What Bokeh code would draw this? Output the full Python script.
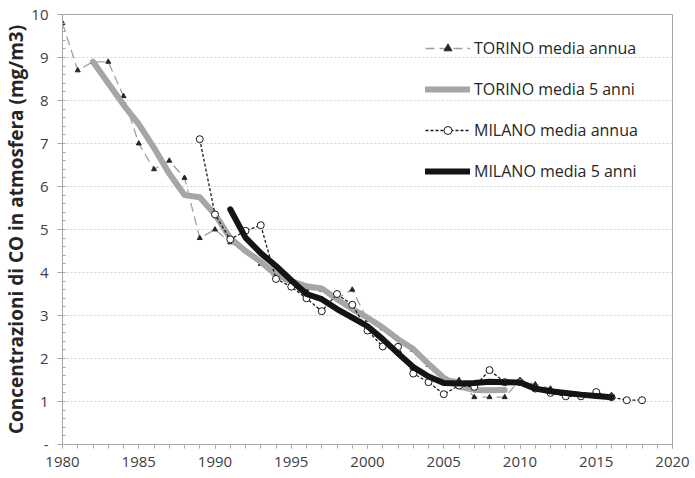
from bokeh.plotting import figure
from bokeh.models import FixedTicker, Legend, LegendItem, Range1d, Title
from bokeh.embed import file_html
from bokeh.resources import INLINE

# ---- data ----
torino_years = list(range(1980, 2017))
torino_annua = [9.8, 8.7, 8.9, 8.9, 8.1, 7.0, 6.4, 6.6, 6.2, 4.8,
                5.0, 4.7, 4.5, 4.2, 3.85, 3.75, 3.6, 3.6, 3.4, 3.6,
                2.9, 2.7, 2.45, 2.2, 1.85, 1.55, 1.5, 1.1, 1.1, 1.1,
                1.5, 1.4, 1.3, 1.2, 1.15, 1.15, 1.15]

torino5_years = list(range(1982, 2010))
torino_5anni = [8.9, 8.4, 7.9, 7.45, 6.9, 6.3, 5.8, 5.75, 5.35, 4.8,
                4.5, 4.25, 3.95, 3.8, 3.68, 3.63, 3.38, 3.15, 2.95, 2.72,
                2.45, 2.22, 1.87, 1.55, 1.35, 1.27, 1.26, 1.27]

milano_years = list(range(1989, 2019))
milano_annua = [7.1, 5.35, 4.77, 4.97, 5.1, 3.85, 3.67, 3.4, 3.1, 3.5,
                3.25, 2.65, 2.28, 2.27, 1.65, 1.45, 1.17, 1.37, 1.34, 1.73,
                1.45, 1.45, 1.3, 1.2, 1.12, 1.12, 1.22, 1.1, 1.03, 1.03]

milano5_years = list(range(1991, 2017))
milano_5anni = [5.47, 4.81, 4.45, 4.15, 3.82, 3.5, 3.38, 3.15, 2.95, 2.75,
                2.45, 2.12, 1.8, 1.58, 1.43, 1.42, 1.43, 1.46, 1.45, 1.44,
                1.3, 1.24, 1.2, 1.16, 1.13, 1.1]

x_major = [1980, 1985, 1990, 1995, 2000, 2005, 2010, 2015, 2020]
y_major = list(range(0, 11))
y_labels = {0: "-"}

y_title = "Concentrazioni di CO in atmosfera (mg/m3)"
labels = ["TORINO media annua", "TORINO media 5 anni",
          "MILANO media annua", "MILANO media 5 anni"]

FONT = "Open Sans"
AXIS_C = "#a6a6a6"
TEXT_C = "#404040"

p = figure(width=695, height=478, output_backend="svg", toolbar_location=None,
           x_range=Range1d(1980, 2020), y_range=Range1d(0, 10),
           min_border_left=62, min_border_right=23, min_border_top=14,
           min_border_bottom=34)

p.background_fill_color = "white"
p.border_fill_color = "white"
p.outline_line_color = AXIS_C
p.outline_line_width = 1

# axes
p.xaxis.ticker = FixedTicker(ticks=x_major, minor_ticks=list(range(1980, 2021)))
p.yaxis.ticker = FixedTicker(ticks=y_major,
                             minor_ticks=[round(i * 0.2, 1) for i in range(0, 51)])
p.yaxis.major_label_overrides = y_labels

for ax in (p.xaxis[0], p.yaxis[0]):
    ax.axis_line_color = AXIS_C
    ax.major_tick_line_color = AXIS_C
    ax.minor_tick_line_color = AXIS_C
    ax.major_label_text_font = FONT
    ax.major_label_text_font_size = "15px"
    ax.major_label_text_color = TEXT_C

p.xaxis.major_tick_out = 4
p.xaxis.major_tick_in = 0
p.xaxis.minor_tick_out = 4
p.xaxis.minor_tick_in = 0
p.xaxis.major_label_standoff = 8

p.yaxis.major_tick_out = 5
p.yaxis.major_tick_in = 0
p.yaxis.minor_tick_out = 0
p.yaxis.minor_tick_in = 3
p.yaxis.major_label_standoff = 9

p.xgrid.grid_line_color = None
p.ygrid.ticker = FixedTicker(ticks=y_major)
p.ygrid.grid_line_color = "#d0d0d0"
p.ygrid.grid_line_dash = "2 2"
p.ygrid.grid_line_width = 1

# y axis title as a left-side title panel
ytitle = Title(text=y_title, align="center", offset=-8,
               text_font=FONT, text_font_size="19px", text_font_style="bold",
               text_color="#262626", standoff=0)
p.add_layout(ytitle, "left")

# series
t_line = p.line(torino_years, torino_annua, line_color="#a0a0a0", line_width=1.3,
                line_dash="9 5")
t_pts = p.scatter(torino_years, torino_annua, marker="triangle", size=5,
                  fill_color="#262626", line_color="#262626")
t5 = p.line(torino5_years, torino_5anni, line_color="#a6a6a6", line_width=6,
            line_join="round", line_cap="round")
m_line = p.line(milano_years, milano_annua, line_color="#1a1a1a", line_width=1.3,
                line_dash="3 2")
m_pts = p.scatter(milano_years, milano_annua, marker="circle", size=7,
                  fill_color="white", line_color="#1a1a1a", line_width=1)
m5 = p.line(milano5_years, milano_5anni, line_color="#141414", line_width=6,
            line_join="round", line_cap="round")

legend = Legend(items=[
    LegendItem(label=labels[0], renderers=[t_line, t_pts]),
    LegendItem(label=labels[1], renderers=[t5]),
    LegendItem(label=labels[2], renderers=[m_line, m_pts]),
    LegendItem(label=labels[3], renderers=[m5]),
], location=(363, 262))
legend.border_line_color = None
legend.background_fill_alpha = 0
legend.label_text_font = FONT
legend.label_text_font_size = "16px"
legend.label_text_color = "#262626"
legend.glyph_width = 45
legend.glyph_height = 20
legend.label_height = 20
legend.label_standoff = 4
legend.spacing = 19
legend.padding = 5
legend.margin = 0
p.add_layout(legend, "center")

open("out.html", "w").write(file_html(p, INLINE))
